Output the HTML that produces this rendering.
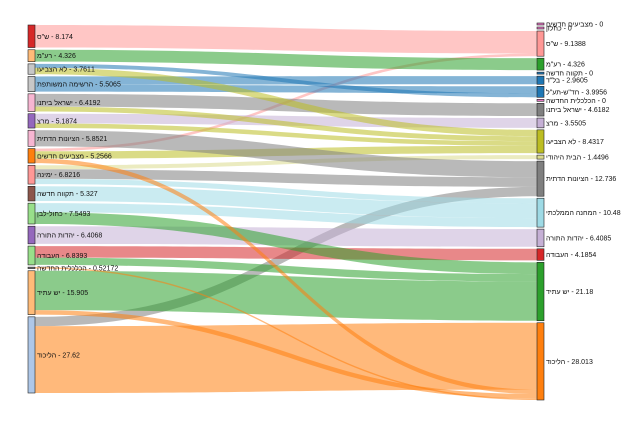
<!DOCTYPE html>
<html><head><meta charset="utf-8">
<style>
html,body{margin:0;padding:0;background:#fff;}
svg{display:block;font-family:"Liberation Sans","Noto Sans CJK SC",sans-serif;}
</style></head>
<body>
<svg id="chart" width="640" height="425" viewBox="0 0 640 425">
<g id="links"></g>
<g id="nodes"></g>
</svg>
<script>
const leftNames = ['ש"ס','רע"מ','לא הצביעו','הרשימה המשותפת','ישראל ביתנו','מרצ','הציונות הדתית','מצביעים חדשים','ימינה','תקווה חדשה','כחול-לבן','יהדות התורה','העבודה','הכלכלית החדשה','יש עתיד','הליכוד'];
const leftValues = [8.174,4.326,3.7611,5.5065,6.4192,5.1874,5.8521,5.2566,6.8216,5.327,7.5493,6.4068,6.8393,0.52172,15.905,27.62];
const leftColors = ['#d62728','#ffbb78','#c7c7c7','#c7c7c7','#f7b6d2','#9467bd','#f7b6d2','#ff7f0e','#ff9896','#8c564b','#98df8a','#9467bd','#98df8a','#7f7f7f','#ffbb78','#aec7e8'];
const rightNames = ['מצביעים חדשים','כחלון','ש"ס','רע"מ','תקווה חדשה','בל"ד','חד"ש-תע"ל','הכלכלית החדשה','ישראל ביתנו','מרצ','לא הצביעו','הבית היהודי','הציונות הדתית','המחנה הממלכתי','יהדות התורה','העבודה','יש עתיד','הליכוד'];
const rightValues = [0,0,9.1388,4.326,0,2.9605,3.9956,0,4.6182,3.5505,8.4317,1.4496,12.736,10.48,6.4085,4.1854,21.18,28.013];
const rightColors = ['#e377c2','#e377c2','#ff9896','#2ca02c','#1f77b4','#1f77b4','#1f77b4','#e377c2','#7f7f7f','#c5b0d5','#bcbd22','#dbdb8d','#7f7f7f','#9edae5','#c5b0d5','#d62728','#2ca02c','#ff7f0e'];
const linkSource = [0,7,1,3,3,2,4,5,2,4,5,7,8,6,8,15,8,9,10,11,12,10,12,14,15,7,14,13];
const linkTarget = [2,2,3,5,6,6,8,9,10,10,10,10,11,12,12,12,13,13,13,14,15,16,16,16,17,17,17,17];
const linkValues = [8.174,0.965,4.326,2.96,2.547,1.449,4.618,3.55,2.312,1.801,1.637,2.682,1.45,5.852,3.5,3.384,1.872,5.327,3.281,6.407,4.185,4.268,2.654,14.258,24.236,1.61,1.647,0.52];

const NS='http://www.w3.org/2000/svg';
function mk(t,a,p){const e=document.createElementNS(NS,t);for(const k in a)e.setAttribute(k,a[k]);p.appendChild(e);return e;}
function layout(vals,top,bottom,gap,minH){
  const tot=vals.reduce((a,b)=>a+b,0);
  const n=vals.length;
  const zeros=vals.filter(v=>v===0).length;
  const k=(bottom-top-gap*(n-1)-zeros*minH)/tot;
  let y=top;const out=[];
  for(const v of vals){const h=v===0?minH:v*k;out.push({y:y,h:h,used:0});y+=h+gap;}
  return {nodes:out,k:k};
}
const L=layout(leftValues,25,393,2.2,2);
const R=layout(rightValues,23,400,2.0,2);
const xL0=28,xL1=35,xR0=537,xR1=544;
const linksG=document.getElementById('links');
const nodesG=document.getElementById('nodes');
for(let i=0;i<linkValues.length;i++){
  const s=L.nodes[linkSource[i]],t=R.nodes[linkTarget[i]];
  const hs=linkValues[i]*L.k,ht=linkValues[i]*R.k;
  const y0=s.y+s.used,y1=t.y+t.used;s.used+=hs;t.used+=ht;
  const xm=(xL1+xR0)/2;
  const d=`M${xL1},${y0} C${xm},${y0} ${xm},${y1} ${xR0},${y1} L${xR0},${y1+ht} C${xm},${y1+ht} ${xm},${y0+hs} ${xL1},${y0+hs} Z`;
  const p=mk('path',{d:d,fill:rightColors[linkTarget[i]],'fill-opacity':0.55},linksG);
  
  
}
const LRM='\u200E';
leftNames.forEach((n,i)=>{
  const nd=L.nodes[i];
  const r=mk('rect',{x:xL0,y:nd.y,width:xL1-xL0,height:Math.max(nd.h,1),fill:leftColors[i],stroke:'#222','stroke-width':0.6},nodesG);
  
  
  const t=mk('text',{x:xL1+2,y:nd.y+nd.h/2+2.5,'font-size':7,fill:'#111',direction:'ltr','unicode-bidi':'embed'},nodesG);
  t.textContent=LRM+n+LRM+' - '+leftValues[i];
  
  
});
rightNames.forEach((n,i)=>{
  const nd=R.nodes[i];
  const r=mk('rect',{x:xR0,y:nd.y,width:xR1-xR0,height:Math.max(nd.h,1),fill:rightColors[i],stroke:'#222','stroke-width':0.6},nodesG);
  
  
  const t=mk('text',{x:xR1+2,y:nd.y+nd.h/2+2.5,'font-size':7,fill:'#111',direction:'ltr','unicode-bidi':'embed'},nodesG);
  t.textContent=LRM+n+LRM+' - '+rightValues[i];
  
  
});
</script>
</body></html>
